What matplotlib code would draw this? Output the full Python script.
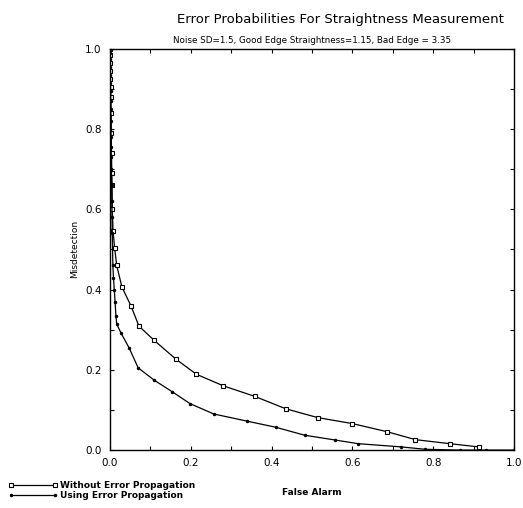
import numpy as np
import matplotlib.pyplot as plt
from matplotlib.ticker import MultipleLocator

# Without error propagation (square markers)
fa_without = [0.0, 0.0004, 0.0008, 0.0012, 0.0016, 0.002, 0.0024, 0.003, 0.0036, 0.0042,
              0.0048, 0.0055, 0.006, 0.008, 0.012, 0.017, 0.03, 0.052, 0.072, 0.109,
              0.163, 0.214, 0.281, 0.358, 0.435, 0.514, 0.600, 0.685, 0.756, 0.841, 0.912]
md_without = [1.0, 0.985, 0.965, 0.945, 0.925, 0.905, 0.88, 0.84, 0.79, 0.74,
              0.69, 0.66, 0.60, 0.545, 0.503, 0.46, 0.406, 0.36, 0.309, 0.274,
              0.227, 0.189, 0.16, 0.134, 0.103, 0.081, 0.066, 0.046, 0.026, 0.016, 0.008]

# Using error propagation (dot markers)
fa_using = [0.0, 0.0003, 0.0006, 0.0009, 0.0012, 0.0015, 0.0018, 0.0021, 0.0024, 0.0027,
            0.003, 0.0033, 0.0036, 0.004, 0.0045, 0.005, 0.0055, 0.006, 0.0075, 0.009,
            0.011, 0.013, 0.015, 0.017, 0.028, 0.048, 0.07, 0.11, 0.155, 0.198,
            0.257, 0.34, 0.41, 0.482, 0.558, 0.614, 0.72, 0.78, 0.865, 0.93, 1.0]
md_using = [1.0, 0.99, 0.975, 0.955, 0.935, 0.915, 0.895, 0.87, 0.85, 0.82,
            0.78, 0.755, 0.73, 0.70, 0.66, 0.62, 0.58, 0.54, 0.46, 0.43,
            0.40, 0.37, 0.335, 0.314, 0.291, 0.254, 0.205, 0.174, 0.145, 0.116,
            0.09, 0.072, 0.057, 0.037, 0.025, 0.016, 0.008, 0.002, 0.0, 0.0, 0.0]

plt.rcParams['font.family'] = 'DejaVu Sans'

fig = plt.figure(figsize=(5.23, 5.08), dpi=100)
ax = fig.add_axes([0.21, 0.114, 0.773, 0.79])

ax.plot(fa_without, md_without, color='black', lw=0.9, marker='s', ms=3.5,
        mfc='white', mec='black', mew=0.8, label='Without Error Propagation')
ax.plot(fa_using, md_using, color='black', lw=0.9, marker='.', ms=3,
        label='Using Error Propagation')

ax.set_xlim(0, 1)
ax.set_ylim(0, 1)
ax.xaxis.set_major_locator(MultipleLocator(0.2))
ax.yaxis.set_major_locator(MultipleLocator(0.2))
ax.xaxis.set_minor_locator(MultipleLocator(0.1))
ax.yaxis.set_minor_locator(MultipleLocator(0.1))
ax.tick_params(which='both', direction='in', top=True, right=True, labelsize=7.5,
               length=3, width=0.8, pad=6)
ax.xaxis.set_major_formatter(plt.FormatStrFormatter('%.1f'))
ax.yaxis.set_major_formatter(plt.FormatStrFormatter('%.1f'))
for s in ax.spines.values():
    s.set_linewidth(1)

ax.set_xlabel('False Alarm', fontsize=6.5, labelpad=14, fontweight='bold')
ax.set_ylabel('Misdetection', fontsize=6.5, labelpad=4)
fig.text(0.65, 0.962, 'Error Probabilities For Straightness Measurement',
         ha='center', va='center', fontsize=9.5)
ax.set_title('Noise SD=1.5, Good Edge Straightness=1.15, Bad Edge = 3.35',
             fontsize=6.3, pad=4)

fig.legend(loc='lower left', bbox_to_anchor=(0.0, 0.0), frameon=False,
           numpoints=2, handlelength=5.5, labelspacing=0.1,
           handletextpad=0.3, prop={'weight': 'bold', 'size': 6.5})

fig.savefig('out.png', dpi=100)
